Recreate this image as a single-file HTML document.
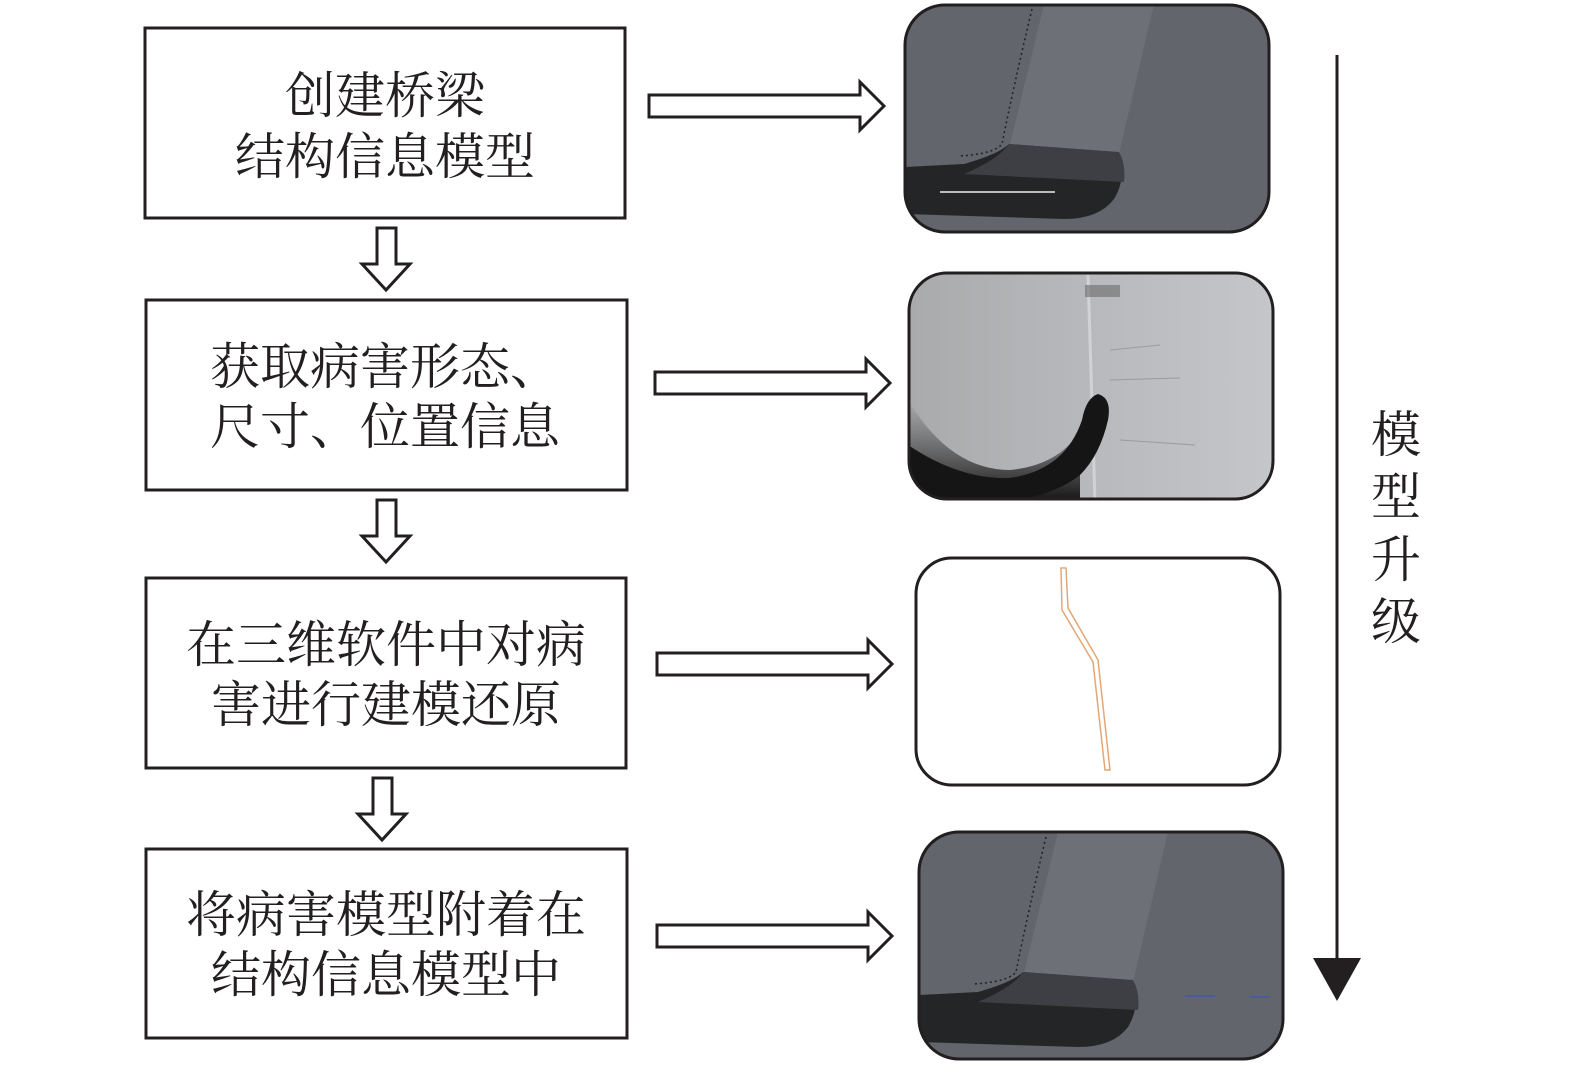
<!DOCTYPE html>
<html><head><meta charset="utf-8"><style>
body{margin:0;background:#fff;width:1575px;height:1069px;overflow:hidden}
svg text{font-family:"Liberation Serif","Noto Serif CJK SC",serif;fill:#231f20}
</style></head><body>
<svg width="1575" height="1069" viewBox="0 0 1575 1069" xmlns="http://www.w3.org/2000/svg">
<defs>
<clipPath id="c1"><rect x="905" y="5" width="364" height="227" rx="40"/></clipPath>
<clipPath id="c2"><rect x="909" y="273" width="364" height="226" rx="38"/></clipPath>
<clipPath id="c4"><rect x="919" y="832" width="364" height="227" rx="40"/></clipPath>
<linearGradient id="g2" x1="0" y1="0" x2="1" y2="0"><stop offset="0" stop-color="#a9aaac"/><stop offset="0.5" stop-color="#b8b9bc"/><stop offset="1" stop-color="#c4c6ca"/></linearGradient>
<linearGradient id="gs" x1="0" y1="0" x2="0" y2="1"><stop offset="0" stop-color="#333" stop-opacity="0"/><stop offset="1" stop-color="#151515"/></linearGradient>
<g id="pier">
<rect x="0" y="0" width="366" height="229" fill="#62656c"/>
<path d="M140 0 L250 0 L215 150 L105 145 Z" fill="#6d7077"/>
<path d="M0 163 L60 160 Q95 150 105 140 L210 148 Q225 170 210 195 Q195 215 160 215 L0 210 Z" fill="#242527"/>
<path d="M105 140 L215 148 Q222 160 220 178 L60 170 Q95 155 105 140Z" fill="#3e3f44"/>
<path d="M128 5 Q110 80 98 140 Q90 150 55 152" fill="none" stroke="#222" stroke-width="1.5" stroke-dasharray="2 3"/>
</g>
</defs>
<g fill="none" stroke="#231f20" stroke-width="3">
<rect x="145" y="28" width="480" height="190"/>
<rect x="146" y="300" width="481" height="190"/>
<rect x="146" y="578" width="480" height="190"/>
<rect x="146" y="849" width="481" height="189"/>
</g>
<g font-size="50" text-anchor="middle">
<text x="385" y="113">创建桥梁</text>
<text x="385" y="174">结构信息模型</text>
<text x="385" y="384">获取病害形态、</text>
<text x="385" y="444">尺寸、位置信息</text>
<text x="386" y="662">在三维软件中对病</text>
<text x="386" y="722">害进行建模还原</text>
<text x="386" y="932">将病害模型附着在</text>
<text x="386" y="992">结构信息模型中</text>
<text x="1396" y="452">模</text>
<text x="1396" y="514">型</text>
<text x="1396" y="577">升</text>
<text x="1396" y="639">级</text>
</g>
<g fill="#fff" stroke="#231f20" stroke-width="3">
<path d="M649 95 L860 95 L860 82 L884 106 L860 130 L860 117 L649 117 Z"/>
<path d="M655 372 L866 372 L866 359 L890 383 L866 407 L866 394 L655 394 Z"/>
<path d="M657 653 L868 653 L868 640 L892 664 L868 688 L868 675 L657 675 Z"/>
<path d="M657 925 L868 925 L868 912 L892 936 L868 960 L868 947 L657 947 Z"/>
<path d="M377 228 L396 228 L396 264 L410 264 L386 290 L362 264 L377 264 Z"/>
<path d="M377 500 L396 500 L396 536 L410 536 L386 562 L362 536 L377 536 Z"/>
<path d="M373 778 L392 778 L392 814 L406 814 L382 840 L358 814 L373 814 Z"/>
</g>
<line x1="1337" y1="55" x2="1337" y2="962" stroke="#231f20" stroke-width="3"/>
<path d="M1313 958 L1361 958 L1337 1001 Z" fill="#231f20"/>
<g clip-path="url(#c1)"><use href="#pier" x="904" y="4"/><line x1="940" y1="192" x2="1055" y2="192" stroke="#bbb" stroke-width="2"/></g>
<rect x="905" y="5" width="364" height="227" rx="40" fill="none" stroke="#231f20" stroke-width="3"/>
<g clip-path="url(#c2)">
<rect x="908" y="272" width="366" height="229" fill="url(#g2)"/>
<path d="M1088 275 L1095 501" stroke="#d0d2d5" stroke-width="3"/>
<path d="M908 400 Q950 470 1010 470 Q1060 465 1080 430 L1080 501 L908 501Z" fill="url(#gs)"/>
<path d="M908 445 Q960 480 1010 478 Q1065 470 1082 420 Q1086 398 1098 394 Q1112 398 1108 420 Q1100 455 1080 475 Q1055 495 1010 501 L908 501 Z" fill="#151515"/>
<rect x="1085" y="285" width="35" height="12" fill="#6a6a6c" opacity="0.6"/>
<path d="M1110 350 L1160 345 M1110 380 L1180 378 M1120 440 L1195 445" stroke="#9a9b9e" stroke-width="1"/>
</g>
<rect x="909" y="273" width="364" height="226" rx="38" fill="none" stroke="#231f20" stroke-width="3"/>
<rect x="916" y="558" width="364" height="227" rx="36" fill="#fff" stroke="#231f20" stroke-width="3"/>
<path d="M1061 568 L1066 568 L1068 608 L1098 660 L1110 770 L1105 770 L1093 662 L1062 610 Z" fill="#fff" stroke="#e0a878" stroke-width="1.5"/>
<g clip-path="url(#c4)"><use href="#pier" x="918" y="832"/><line x1="1185" y1="996" x2="1215" y2="996" stroke="#4a5aa0" stroke-width="2"/><line x1="1250" y1="997" x2="1270" y2="997" stroke="#4a5aa0" stroke-width="2"/></g>
<rect x="919" y="832" width="364" height="227" rx="40" fill="none" stroke="#231f20" stroke-width="3"/>
</svg>
</body></html>
